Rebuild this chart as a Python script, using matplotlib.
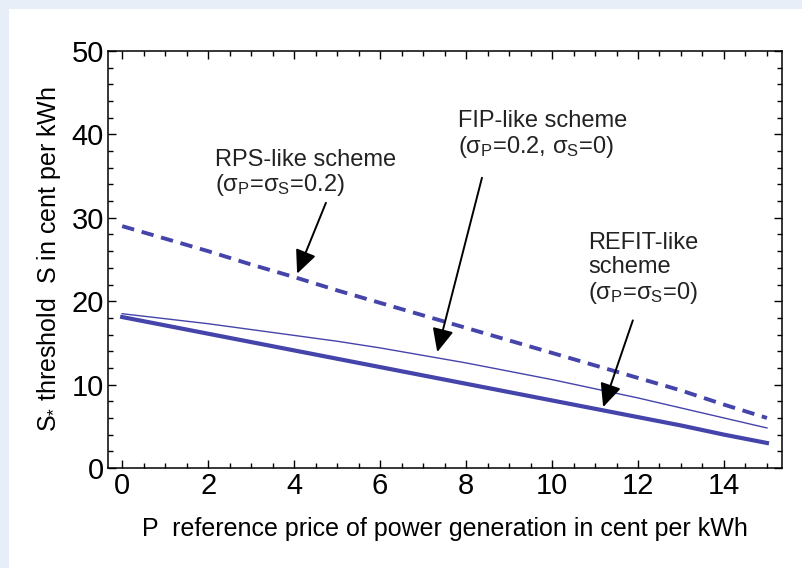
import numpy as np
import matplotlib
matplotlib.use("Agg")
import matplotlib.pyplot as plt
from matplotlib.patches import Rectangle
from matplotlib.ticker import MultipleLocator

plt.rcParams['font.family'] = ['Liberation Sans', 'DejaVu Sans']
plt.rcParams['mathtext.fontset'] = 'custom'
plt.rcParams['mathtext.rm'] = 'Liberation Sans'
plt.rcParams['mathtext.it'] = 'Liberation Sans:italic'

LINE_COLOR = '#4444AA'

# reference price P (cent/kWh)
price = [0, 1, 2, 3, 4, 5, 6, 7, 8, 9, 10, 11, 12, 13, 14, 15]
# threshold S* for each scheme
rps = [29.0, 27.5, 26.0, 24.4, 22.9, 21.3, 19.8, 18.3, 16.8, 15.3, 13.8, 12.3, 10.8, 9.3, 7.6, 6.0]
fip = [18.5, 17.9, 17.3, 16.6, 15.9, 15.2, 14.4, 13.5, 12.6, 11.6, 10.6, 9.5, 8.4, 7.2, 6.0, 4.8]
refit = [18.1, 17.1, 16.1, 15.1, 14.1, 13.1, 12.1, 11.1, 10.1, 9.1, 8.1, 7.1, 6.1, 5.1, 4.0, 3.0]

fig = plt.figure(figsize=(8.02, 5.68), dpi=100, facecolor='#E8EEF7')
fig.patches.append(Rectangle((9 / 802, 0), 1, 1 - 9 / 568, transform=fig.transFigure,
                             facecolor='white', edgecolor='none', zorder=-10))
ax = fig.add_axes([108 / 802, 1 - 468 / 568, (782 - 108) / 802, (468 - 51) / 568])

ax.plot(price, rps, color=LINE_COLOR, lw=2.8, dashes=(3.2, 2.0))
ax.plot(price, fip, color=LINE_COLOR, lw=1.0)
ax.plot(price, refit, color=LINE_COLOR, lw=3.0)

ax.set_xlim(-0.33, 15.35)
ax.set_ylim(0, 50)
ax.xaxis.set_major_locator(MultipleLocator(2))
ax.xaxis.set_minor_locator(MultipleLocator(0.5))
ax.yaxis.set_major_locator(MultipleLocator(10))
ax.yaxis.set_minor_locator(MultipleLocator(2))
ax.tick_params(which='both', direction='in', top=True, right=True, width=1.0)
ax.tick_params(which='major', length=6, labelsize=21, pad=3)
ax.tick_params(which='minor', length=3.5)
for s in ax.spines.values():
    s.set_linewidth(1.1)

ax.set_xlabel('P  reference price of power generation in cent per kWh', fontsize=18, labelpad=12)
ax.set_ylabel(r'S$_{*}$ threshold  S in cent per kWh', fontsize=18, labelpad=6)

tc = '#222222'
ax.text(2.16, 38.3, 'RPS-like scheme\n(σ$_\\mathrm{P}$=σ$_\\mathrm{S}$=0.2)',
        fontsize=17, color=tc, va='top', ha='left', linespacing=1.05)
ax.text(7.81, 42.9, 'FIP-like scheme\n(σ$_\\mathrm{P}$=0.2, σ$_\\mathrm{S}$=0)',
        fontsize=17, color=tc, va='top', ha='left', linespacing=1.1)
ax.text(10.84, 28.3, 'REFIT-like\nscheme\n(σ$_\\mathrm{P}$=σ$_\\mathrm{S}$=0)',
        fontsize=17, color=tc, va='top', ha='left', linespacing=1.1)

arrow = dict(arrowstyle='-|>,head_length=0.55,head_width=0.25', color='black', lw=1.4,
             mutation_scale=26, shrinkA=0, shrinkB=0)
ax.annotate('', xy=(4.07, 23.3), xytext=(4.74, 31.8), arrowprops=arrow)
ax.annotate('', xy=(7.33, 13.9), xytext=(8.37, 34.8), arrowprops=arrow)
ax.annotate('', xy=(11.19, 7.3), xytext=(11.88, 17.7), arrowprops=arrow)

fig.savefig('out.png', dpi=100, facecolor=fig.get_facecolor())
